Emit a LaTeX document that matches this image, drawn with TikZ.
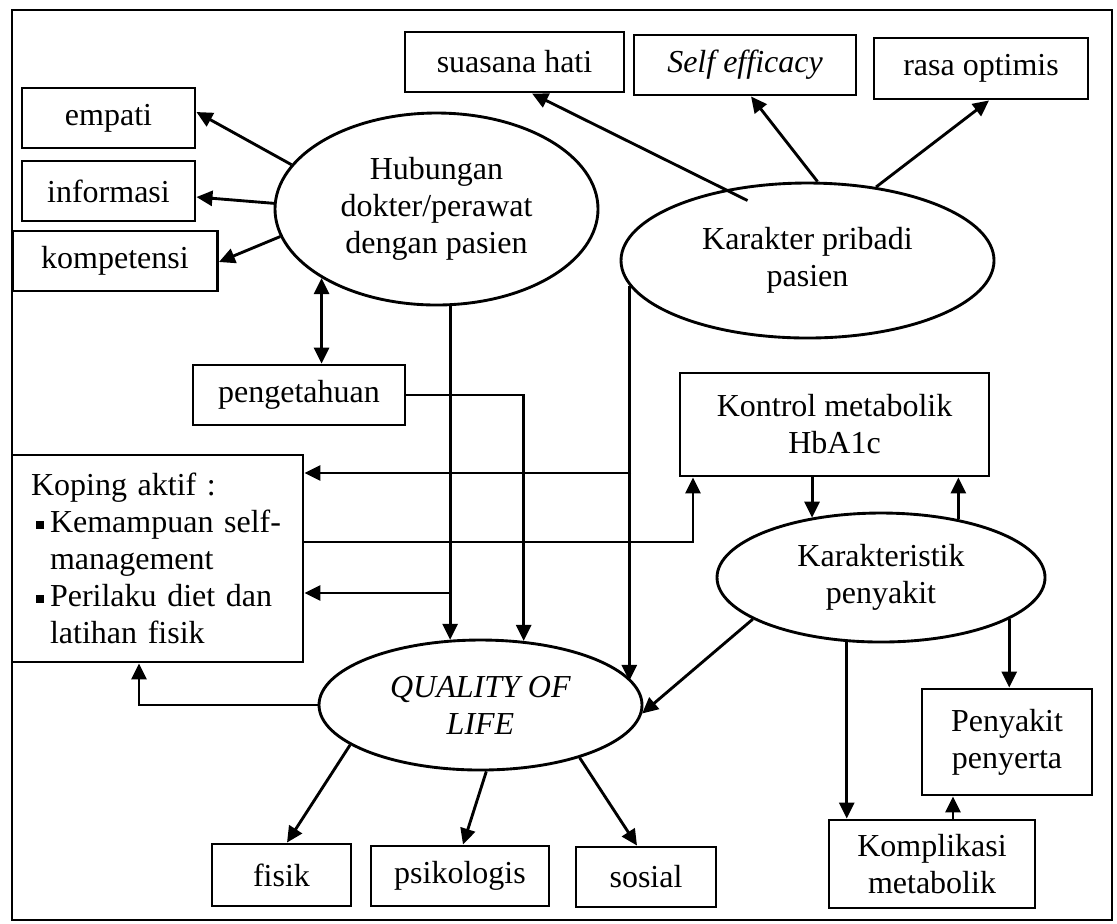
\documentclass[tikz,border=0pt]{standalone}
\usepackage{fontspec}
\setmainfont{Liberation Serif}
\usetikzlibrary{arrows.meta,shapes.geometric,calc}
% bullet and indent for the coping list
\newcommand\kbul{\makebox[7.6pt][l]{\hspace{2pt}\rule[1.6pt]{3.2pt}{3.2pt}}}
\newcommand\kind{\hspace*{7.6pt}}
\begin{document}
\begin{tikzpicture}[x=0.4pt,y=-0.4pt,
  every node/.style={font=\fontsize{12.8pt}{14.8pt}\selectfont},
  sz/.style 2 args={minimum width=#1*0.4pt,minimum height=#2*0.4pt},
  box/.style={draw,line width=1.15pt,rectangle,inner sep=0pt,align=center},
  oval/.style={draw,line width=1.15pt,ellipse,inner sep=0pt,align=center},
  arr/.style={line width=1.15pt,-{Triangle[length=6.4pt,width=6pt]}},
  arrboth/.style={line width=1.15pt,{Triangle[length=6.4pt,width=6pt]}-{Triangle[length=6.4pt,width=6pt]}},
  frameline/.style={line width=1.15pt}]
\useasboundingbox (0,0) rectangle (1117,923);
% outer frame
\draw[frameline] (12,10) rectangle (1112,920);

% boxes
\node[box,sz={173}{60}] (empati) at (108.5,118) {empati};
\node[box,sz={173}{60}] (informasi) at (108.5,191) {informasi};
\node[box,sz={205}{60}] (kompetensi) at (115,261) {kompetensi};
\node[box,sz={219}{60}] (suasana) at (514.5,62) {suasana hati};
\node[box,sz={222}{60}] (selfeff) at (745,65) {\textit{Self efficacy}};
\node[box,sz={214}{61}] (rasa) at (981,68.5) {rasa optimis};
\node[box,sz={212}{60}] (peng) at (299,395) {pengetahuan};
\node[box,sz={291}{207},text width=253*0.4pt,align=left] (koping) at (157.5,558.5)
  {Koping aktif :\\ \kbul Kemampuan self-\\ \kind management\\ \kbul Perilaku diet dan\\ \kind latihan fisik};
\node[box,sz={309}{103}] (kontrol) at (834.5,424.5) {Kontrol metabolik\\HbA1c};
\node[box,sz={139}{62}] (fisik) at (281.5,875) {fisik};
\node[box,sz={178}{60}] (psik) at (460,876) {psikologis};
\node[box,sz={140}{60}] (sosial) at (646,877) {sosial};
\node[box,sz={170}{106}] (pen) at (1007,742) {Penyakit\\penyerta};
\node[box,sz={206}{88}] (komp) at (932,864) {Komplikasi\\metabolik};

% ellipses
\node[oval,sz={323}{192}] (hub) at (436.5,209) {Hubungan\\dokter/perawat\\dengan pasien};
\node[oval,sz={373}{155}] (kar) at (807.5,260.5) {Karakter pribadi\\pasien};
\node[oval,sz={328}{129}] (ks) at (881,577.5) {Karakteristik\\penyakit};
\node[oval,sz={323}{130}] (qol) at (480.5,705) {\textit{QUALITY OF}\\\textit{LIFE}};

% doctor/nurse relation
\draw[arr] (hub.163) -- ($(empati.east)+(0,-6)$);
\draw[arr] (hub.178) -- ($(informasi.east)+(0,6)$);
\draw[arr] (hub.190) -- ($(kompetensi.east)+(0,1)$);
\draw[arrboth] (hub.211) -- (hub.211 |- peng.north);
\draw[arr] (hub.278) -- (hub.278 |- qol.116);
\coordinate (j1) at (450,593);
\draw[arr] (j1) -- (j1 -| koping.east);
\draw[arr] (peng.east) -| (qol.56);

% personal character
\draw[arr] ($(kar.center)+(-60,-60)$) -- ($(suasana.south)+(17.5,0)$);
\draw[arr] ($(kar.north)+(10,0)$) -- ($(selfeff.south)+(6,0)$);
\draw[arr] (kar.47) -- ($(rasa.south)+(8,0)$);
\draw[arr] (kar.188) -- (kar.188 |- qol.9);
\coordinate (j2) at (631,473);
\draw[arr] (j2) -- (j2 -| koping.east);

% coping, metabolic control and disease
\draw[arr] ($(koping.east)+(0,-16.5)$) -| ($(kontrol.south)+(-141.5,0)$);
\draw[arr] (ks.139 |- kontrol.south) -- (ks.139);
\draw[arr] (ks.37) -- (ks.37 |- kontrol.south);
\draw[arr] (ks.198) -- (qol.357);
\draw[arr] (ks.242) -- (ks.242 |- komp.north);
\draw[arr] (ks.342) -- (ks.342 |- pen.north);
\coordinate (k1) at ($(komp.north)+(21,0)$);
\draw[arr] (k1) -- (k1 |- pen.south);

% quality of life
\draw[arr] (qol.west) -| ($(koping.south)+(-18.5,0)$);
\draw[arr] (qol.197) -- ($(fisik.north)+(5.5,0)$);
\draw[arr] (qol.275) -- ($(psik.north)+(3,0)$);
\draw[arr] (qol.332) -- ($(sosial.north)+(-9,0)$);
\end{tikzpicture}
\end{document}
